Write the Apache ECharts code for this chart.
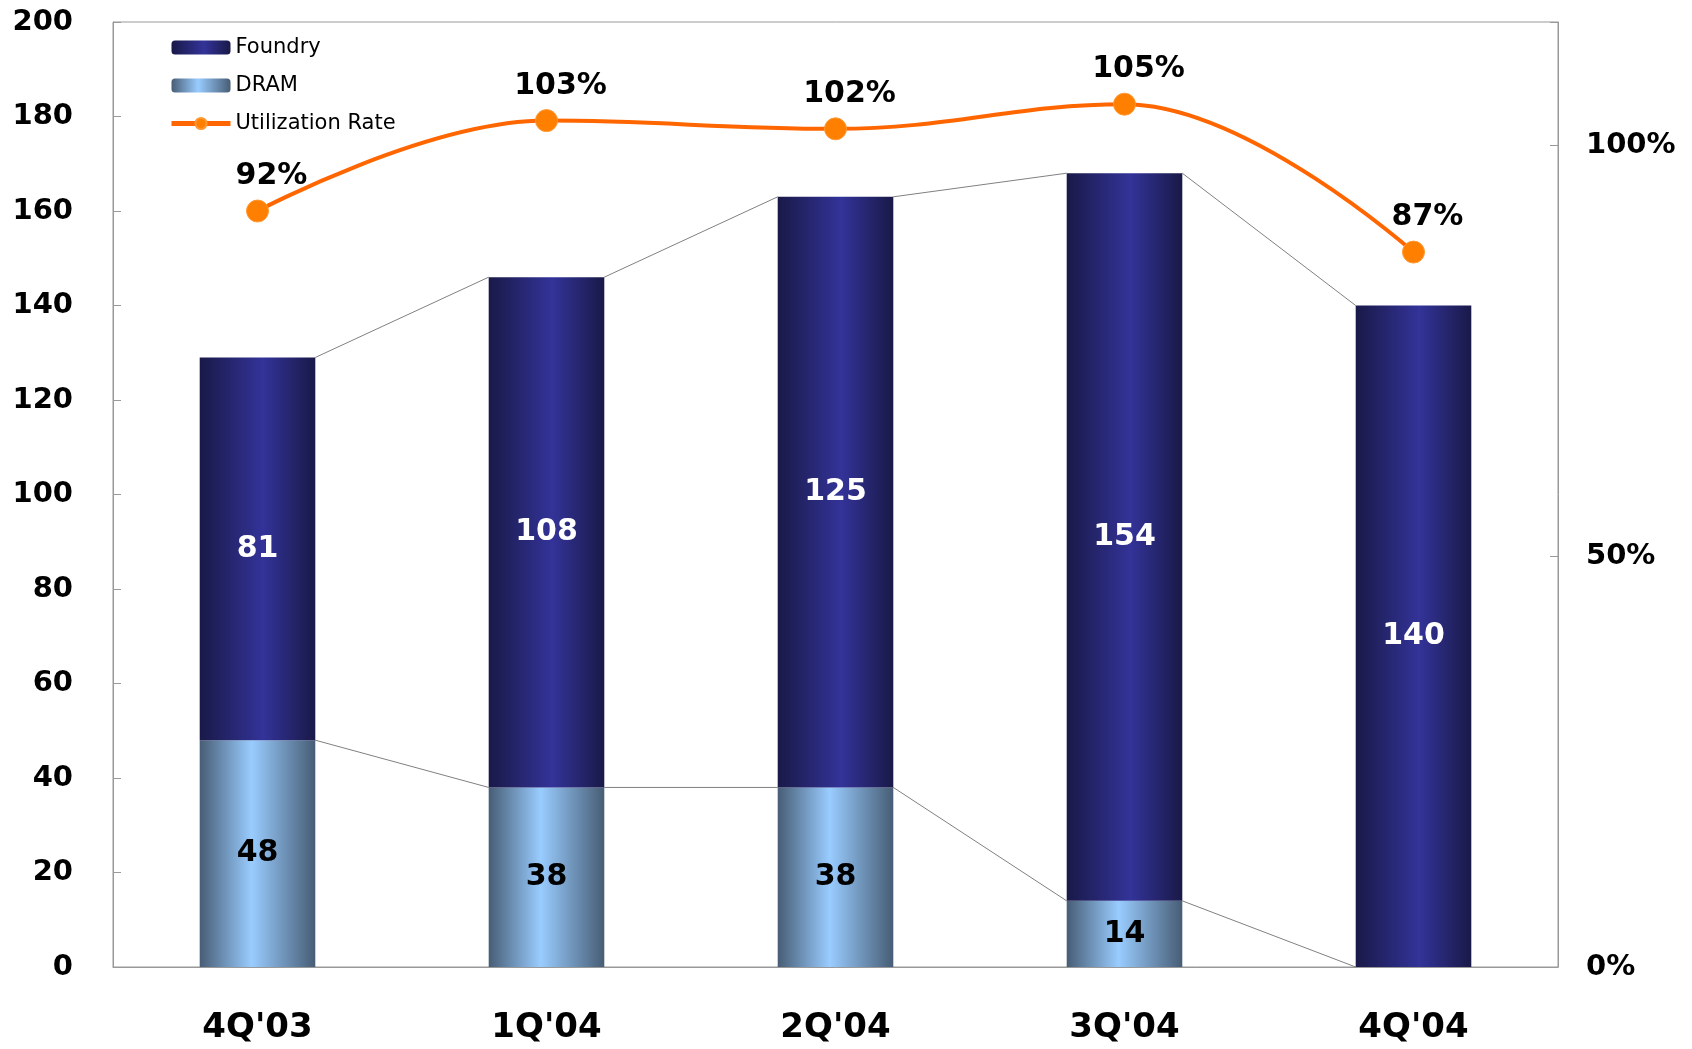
<!DOCTYPE html>
<html>
<head>
<meta charset="utf-8">
<script src="https://cdn.jsdelivr.net/npm/echarts@6/dist/echarts.min.js"></script>
<style>
  html, body { margin: 0; padding: 0; background: #fff; }
  #chart-container { width: 1692px; height: 1049px; }
</style>
</head>
<body>
<div id="chart-container"></div>
<script>
var quarters = ["4Q'03", "1Q'04", "2Q'04", "3Q'04", "4Q'04"];
var dram = [48, 38, 38, 14, 0];
var foundry = [81, 108, 125, 154, 140];
var utilization = [92, 103, 102, 105, 87];

var font = "'DejaVu Sans', Verdana, sans-serif";
var totals = dram.map(function (d, i) { return d + foundry[i]; });

// thin connector lines between neighbouring bar tops
var dramLinks = [];
var totalLinks = [];
for (var i = 0; i < quarters.length - 1; i++) {
  dramLinks.push([i, dram[i], dram[i + 1]]);
  totalLinks.push([i, totals[i], totals[i + 1]]);
}

function linkRender(params, api) {
  var i = api.value(0);
  var p0 = api.coord([i, api.value(1)]);
  var p1 = api.coord([i + 1, api.value(2)]);
  var half = api.size([1, 0])[0] * 0.4 / 2;
  return {
    type: 'line',
    shape: { x1: p0[0] + half, y1: p0[1], x2: p1[0] - half, y2: p1[1] },
    style: { stroke: '#808080', lineWidth: 1 }
  };
}

var foundryColor = new echarts.graphic.LinearGradient(0, 0, 1, 0, [
  { offset: 0, color: '#191948' },
  { offset: 0.55, color: '#333399' },
  { offset: 1, color: '#191948' }
]);
var dramColor = new echarts.graphic.LinearGradient(0, 0, 1, 0, [
  { offset: 0, color: '#475d75' },
  { offset: 0.45, color: '#99ccff' },
  { offset: 1, color: '#475d75' }
]);

var myChart = echarts.init(document.getElementById('chart-container'));
var option = {
  animation: false,
  textStyle: { fontFamily: font },
  grid: {
    left: 113, right: 134, top: 22, bottom: 82,
    show: true, borderColor: '#999', borderWidth: 1
  },
  legend: {
    data: ['Foundry', 'DRAM', {
      name: 'Utilization Rate',
      lineStyle: { width: 5 }
    }],
    orient: 'vertical',
    left: 164,
    top: 32,
    itemWidth: 59,
    itemHeight: 14,
    itemGap: 17,
    textStyle: { fontSize: 21, color: '#000', fontFamily: font }
  },
  xAxis: {
    type: 'category',
    data: quarters,
    axisLine: { lineStyle: { color: '#999' } },
    axisTick: { inside: true, length: 10, lineStyle: { color: '#999' } },
    axisLabel: { fontSize: 34, fontWeight: 'bold', color: '#000', margin: 44 }
  },
  yAxis: [{
    type: 'value',
    min: 0, max: 200, interval: 20,
    splitLine: { show: false },
    axisLine: { show: true, lineStyle: { color: '#999' } },
    axisTick: { show: true, inside: true, length: 8, lineStyle: { color: '#999' } },
    axisLabel: { fontSize: 29, fontWeight: 'bold', color: '#000', margin: 40 }
  }, {
    type: 'value',
    min: 0, max: 115, interval: 50,
    splitLine: { show: false },
    axisLine: { show: true, lineStyle: { color: '#999' } },
    axisTick: { show: true, inside: true, length: 8, lineStyle: { color: '#999' } },
    axisLabel: {
      fontSize: 29, fontWeight: 'bold', color: '#000', margin: 28,
      formatter: function (v) { return v % 50 === 0 ? v + '%' : ''; }
    }
  }],
  series: [{
    name: 'DRAM',
    type: 'bar',
    stack: 'cap',
    barWidth: '40%',
    data: dram,
    itemStyle: { color: dramColor },
    label: {
      show: true, position: 'inside', fontSize: 30, fontWeight: 'bold', color: '#000',
      formatter: function (p) { return p.value ? p.value : ''; }
    }
  }, {
    name: 'Foundry',
    type: 'bar',
    stack: 'cap',
    barWidth: '40%',
    data: foundry,
    itemStyle: { color: foundryColor },
    label: { show: true, position: 'inside', fontSize: 30, fontWeight: 'bold', color: '#fff' }
  }, {
    type: 'custom',
    name: 'links1',
    renderItem: linkRender,
    data: dramLinks,
    z: 1,
    silent: true
  }, {
    type: 'custom',
    name: 'links2',
    renderItem: linkRender,
    data: totalLinks,
    z: 1,
    silent: true
  }, {
    name: 'Utilization Rate',
    type: 'line',
    yAxisIndex: 1,
    data: utilization,
    smooth: 0.4,
    symbol: 'circle',
    symbolSize: 22,
    lineStyle: { color: '#ff6600', width: 4 },
    itemStyle: { color: '#ff7f00', borderColor: '#ff9933', borderWidth: 1 },
    label: {
      show: true, position: 'top', distance: 8, offset: [14, 0],
      fontSize: 30, fontWeight: 'bold', color: '#000',
      formatter: '{c}%'
    },
    z: 5
  }]
};
myChart.setOption(option);
</script>
</body>
</html>
